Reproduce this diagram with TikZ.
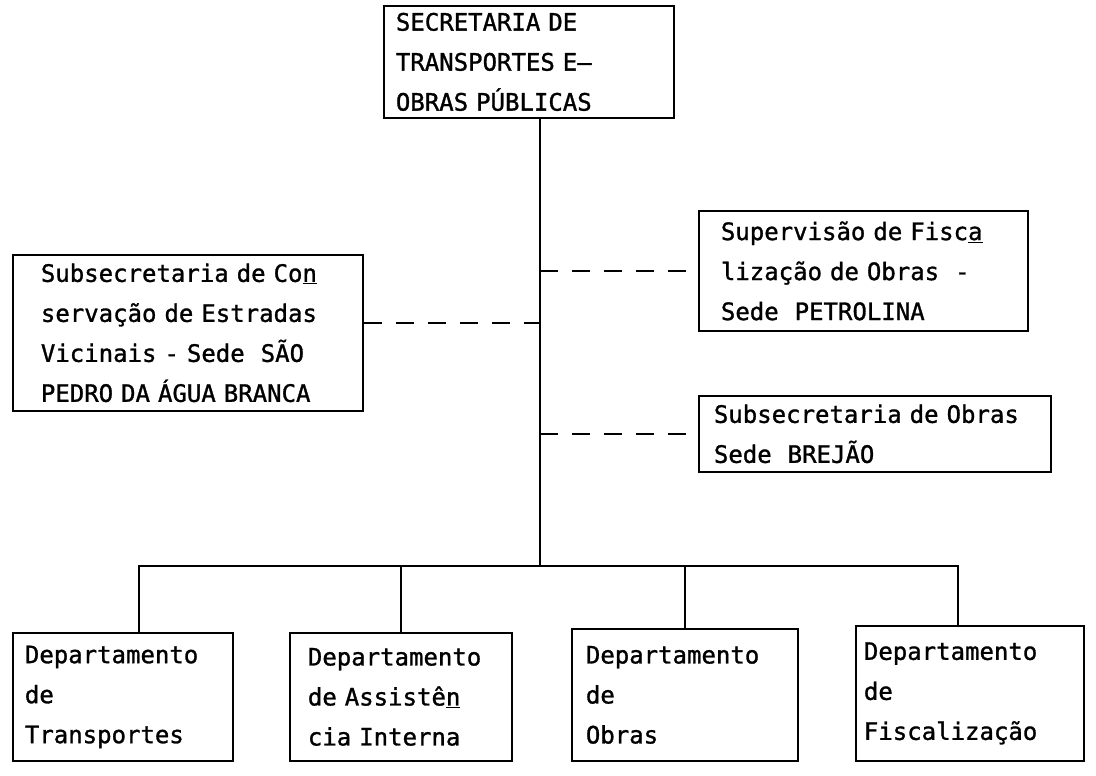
\documentclass[tikz,border=0pt]{standalone}
\usepackage{fontspec}
\setmonofont[FakeBold=1.2]{DejaVu Sans Mono}
\usepackage{tikz}
\newlength{\boxline}
\setlength{\boxline}{1.8pt}
\tikzset{unit/.style = {shape=rectangle,draw,line width=\boxline,anchor=north west,align=left,font=\ttfamily\fontsize{24}{40}\selectfont}}
\tikzset{link/.style = {line width=2.2pt}}
\tikzset{dashlink/.style = {line width=2.2pt,dash pattern=on 18pt off 14pt}}

\begin{document}
\begin{tikzpicture}[x=1pt,y=-1pt]
        \useasboundingbox (0,0) rectangle (1096,776);
        \coordinate (bus) at (540,566);
        \node[unit, text width=266pt, minimum height=112pt, inner xsep=12pt] (sec) at (383,5) {SECRETARIA DE\\TRANSPORTES E—\\OBRAS PÚBLICAS};
        \draw[link] (bus |- sec.south) -- (bus);
        \node[unit, text width=294pt, minimum height=156pt, inner xsep=28pt] (cons) at (12,254) {Subsecretaria de Co\underline{n}\\servação de Estradas\\Vicinais - Sede\ \ SÃO\\PEDRO DA ÁGUA BRANCA};
        \draw[dashlink] ([yshift=10pt]cons.east) -- ([yshift=10pt]cons.east -| bus);
        \node[unit, text width=285pt, minimum height=120pt, inner xsep=22pt] (fisc) at (698,210) {Supervisão de Fisc\underline{a}\\lização de Obras\ \ -\\Sede\ \ PETROLINA};
        \draw[dashlink] (fisc.west -| bus) -- (fisc.west);
        \node[unit, text width=322pt, minimum height=76pt, inner xsep=15pt] (sobras) at (698,395) {Subsecretaria de Obras\\Sede\ \ BREJÃO};
        \draw[dashlink] (sobras.west -| bus) -- (sobras.west);
        \node[unit, text width=196pt, minimum height=128pt, inner xsep=12pt] (dtrans) at (12,632) {Departamento\\de\\Transportes};
        \node[unit, text width=186pt, minimum height=128pt, inner xsep=18pt] (dassist) at (289,632) {Departamento\\de Assistê\underline{n}\\cia Interna};
        \node[unit, text width=198pt, minimum height=132pt, inner xsep=14pt] (dobras) at (571,628) {Departamento\\de\\Obras};
        \node[unit, text width=212pt, minimum height=135pt, inner xsep=8pt] (dfisc) at (855,625) {Departamento\\de\\Fiscalização};
        \draw[link] ([xshift=16pt]dtrans.north) -- ([xshift=16pt]dtrans.north |- bus) -- ([xshift=-12pt]dfisc.north |- bus) -- ([xshift=-12pt]dfisc.north);
        \draw[link] (dassist.north) -- (dassist.north |- bus);
        \draw[link] (dobras.north) -- (dobras.north |- bus);
    \end{tikzpicture}
\end{document}
